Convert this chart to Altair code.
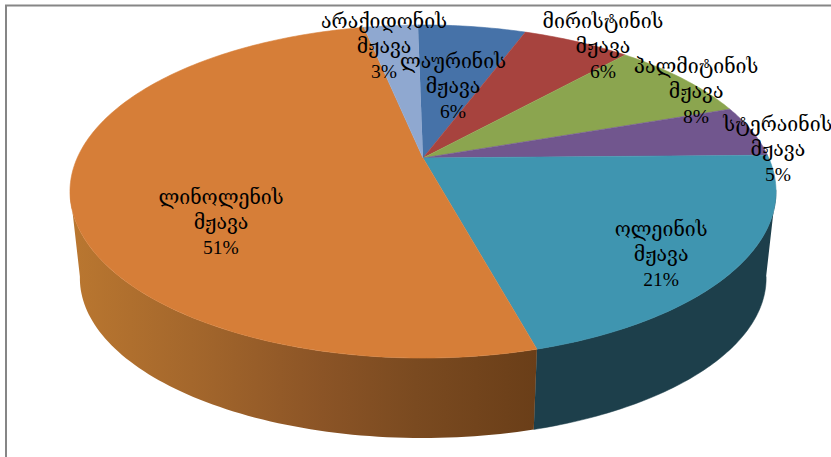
import altair as alt
import numpy as np
import pandas as pd

# Fatty acid composition, clockwise from twelve o'clock
acids = ["ლაურინის", "მირისტინის", "პალმიტინის", "სტერაინის", "ოლეინის", "ლინოლენის", "არაქიდონის"]
shares = [6, 6, 8, 5, 21, 51, 3]
top_colors = ["#4672A8", "#A7433E", "#8BA54F", "#71568E", "#3F95B0", "#D67E38", "#8FA8D0"]

WIDTH, HEIGHT = 831, 457

# Perspective disc: hub position, half axes, foreshortening and first-slice angle
HUB_X, HUB_Y = 423.0, 158.0
AXIS_X, AXIS_Y, TILT = 345.8, 159.8, 0.2012
START_ANGLE = -1.0
# The underside of the disc is slightly smaller and sits lower
BASE_Y, BASE_SX, BASE_SY = 246.0, 0.972, 0.96
# Angles where the disc rim turns away from the viewer
RIM_RIGHT, RIM_LEFT = 101.0, 259.0

# Label centre for each slice, as (radial fraction, angular nudge in degrees)
label_place = [(0.497, 1.25), (1.009, 5.44), (0.972, 5.79), (1.038, 7.2),
               (0.818, 4.6), (0.658, -21.25), (0.818, -2.82)]
LINE_HEIGHT = 25


def project(theta_deg, hub_y=HUB_Y, sx=1.0, sy=1.0, radius=1.0):
    t = np.radians(theta_deg)
    depth = radius * np.cos(t)
    w = 1 + TILT * depth
    return (HUB_X + AXIS_X * sx * radius * np.sin(t) / w,
            hub_y - AXIS_Y * sy * depth / w)


edges = START_ANGLE + np.concatenate([[0], np.cumsum(shares)]) * 3.6

top_rows, label_rows = [], []
for name, share, start, stop, place in zip(acids, shares, edges[:-1], edges[1:], label_place):
    angles = np.linspace(start, stop, int(stop - start) + 2)
    px, py = project(angles)
    top_rows.append({"acid": name, "i": 0, "x": HUB_X, "y": HUB_Y})
    for i, (a, b) in enumerate(zip(px, py), start=1):
        top_rows.append({"acid": name, "i": i, "x": float(a), "y": float(b)})
    lx, ly = project((start + stop) / 2 + place[1], radius=place[0])
    label_rows.append({"x": float(lx), "y": float(ly), "text": f"{name}\nმჟავა\n{share}%"})


def wall_frame(start, stop):
    angles = np.linspace(start, stop, 80)
    tx, ty = project(angles)
    bx, by = project(angles, hub_y=BASE_Y, sx=BASE_SX, sy=BASE_SY)
    xs = np.concatenate([tx, bx[::-1]])
    ys = np.concatenate([ty, by[::-1]])
    return pd.DataFrame({"i": np.arange(len(xs)), "x": xs, "y": ys})


x_scale = alt.Scale(domain=[0, WIDTH], range=[0, WIDTH])
y_scale = alt.Scale(domain=[0, HEIGHT], range=[0, HEIGHT])
x_enc = alt.X("x:Q", scale=x_scale, axis=None)
y_enc = alt.Y("y:Q", scale=y_scale, axis=None)

teal_wall = alt.Chart(wall_frame(RIM_RIGHT, edges[5])).mark_line(
    fill="#1D3F4B", stroke="#1D3F4B", strokeWidth=0.5
).encode(x=x_enc, y=y_enc, order="i:Q")

orange_wall = alt.Chart(wall_frame(edges[5], RIM_LEFT)).mark_line(
    fill=alt.Gradient(
        gradient="linear", x1=1, x2=0, y1=0, y2=0,
        stops=[
            alt.GradientStop(color="#6A3E18", offset=0.0),
            alt.GradientStop(color="#7A4A20", offset=0.26),
            alt.GradientStop(color="#8B5426", offset=0.46),
            alt.GradientStop(color="#A4672C", offset=0.74),
            alt.GradientStop(color="#BA7730", offset=1.0),
        ],
    ),
    strokeWidth=0,
).encode(x=x_enc, y=y_enc, order="i:Q")

top_faces = alt.Chart(pd.DataFrame(top_rows)).mark_line(strokeWidth=0.6).encode(
    x=x_enc,
    y=y_enc,
    order="i:Q",
    fill=alt.Fill("acid:N", scale=alt.Scale(domain=acids, range=top_colors), legend=None),
    stroke=alt.Stroke("acid:N", scale=alt.Scale(domain=acids, range=top_colors), legend=None),
)

# Three-line labels: the anchor falls on the first line, so lift by one line to centre the block
labels = alt.Chart(pd.DataFrame(label_rows)).mark_text(
    font="Liberation Serif, DejaVu Serif, serif",
    fontSize=19.5,
    lineBreak="\n",
    lineHeight=LINE_HEIGHT,
    dy=-LINE_HEIGHT,
    color="#000000",
).encode(x=x_enc, y=y_enc, text="text:N")

frame_left = alt.Chart().mark_rule(color="#868686", strokeWidth=2).encode(
    x=alt.value(6), y=alt.value(5), y2=alt.value(HEIGHT)
)
frame_top = alt.Chart().mark_rule(color="#868686", strokeWidth=2).encode(
    y=alt.value(5.5), x=alt.value(5), x2=alt.value(WIDTH)
)

chart = (
    alt.layer(frame_left, frame_top, teal_wall, orange_wall, top_faces, labels)
    .properties(width=WIDTH, height=HEIGHT, padding=0, background="#FFFFFF",
                autosize=alt.AutoSizeParams(type="none"))
    .configure_view(stroke=None)
)

chart.save("out.html", embed_options={"renderer": "svg", "actions": False})
